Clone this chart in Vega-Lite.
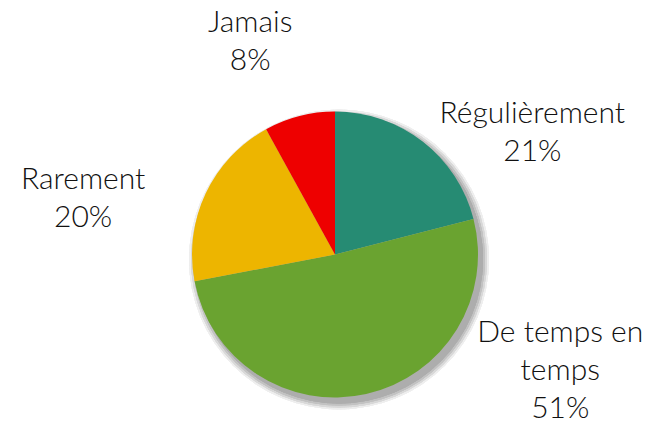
{
  "$schema": "https://vega.github.io/schema/vega-lite/v6.json",
  "width": 630,
  "height": 333,
  "autosize": "none",
  "padding": {"left": 20, "top": 88, "right": 0, "bottom": 0},
  "background": "white",
  "view": {"stroke": null},
  "data": {
    "values": [
      {"cat": "Régulièrement", "value": 21, "rank": 1, "label": "Régulièrement\n21%"},
      {"cat": "De temps en temps", "value": 51, "rank": 2, "label": "De temps en\ntemps\n51%"},
      {"cat": "Rarement", "value": 20, "rank": 3, "label": "Rarement\n20%"},
      {"cat": "Jamais", "value": 8, "rank": 4, "label": "Jamais\n8%"}
    ]
  },
  "layer": [
    {"mark": {"type": "arc", "outerRadius": 150, "theta": 0, "theta2": 6.2832, "fill": "#eeeeee", "x": {"expr": "width/2+4"}, "y": {"expr": "height/2+5"}}, "encoding": {}},
    {"mark": {"type": "arc", "outerRadius": 148, "theta": 0, "theta2": 6.2832, "fill": "#d8d8d8", "x": {"expr": "width/2+4"}, "y": {"expr": "height/2+5"}}, "encoding": {}},
    {"mark": {"type": "arc", "outerRadius": 146, "theta": 0, "theta2": 6.2832, "fill": "#c2c2c2", "x": {"expr": "width/2+4"}, "y": {"expr": "height/2+5"}}, "encoding": {}},
    {"mark": {"type": "arc", "outerRadius": 144, "theta": 0, "theta2": 6.2832, "fill": "#adadad", "x": {"expr": "width/2+4"}, "y": {"expr": "height/2+5"}}, "encoding": {}},
    {
      "mark": {"type": "arc", "outerRadius": 143},
      "encoding": {
        "theta": {"field": "value", "type": "quantitative", "stack": true},
        "order": {"field": "rank", "type": "quantitative"},
        "color": {
          "field": "cat",
          "type": "nominal",
          "scale": {"domain": ["Régulièrement", "De temps en temps", "Rarement", "Jamais"], "range": ["#268B73", "#6AA330", "#EDB500", "#EE0000"]},
          "legend": null
        }
      }
    },
    {
      "mark": {"type": "text", "radius": 180, "dx": 87, "dy": 11, "font": "Lato", "fontSize": 30, "fontWeight": 300, "lineHeight": 38, "lineBreak": "\n", "align": "center", "baseline": "alphabetic", "color": "#111111"},
      "encoding": {
        "theta": {"field": "value", "type": "quantitative", "stack": true},
        "order": {"field": "rank", "type": "quantitative"},
        "text": {"field": "label", "condition": {"test": "datum.cat !== 'Régulièrement'", "value": ""}}
      }
    },
    {
      "mark": {"type": "text", "radius": 180, "dx": 186, "dy": -88, "font": "Lato", "fontSize": 30, "fontWeight": 300, "lineHeight": 38, "lineBreak": "\n", "align": "center", "baseline": "alphabetic", "color": "#111111"},
      "encoding": {
        "theta": {"field": "value", "type": "quantitative", "stack": true},
        "order": {"field": "rank", "type": "quantitative"},
        "text": {"field": "label", "condition": {"test": "datum.cat !== 'De temps en temps'", "value": ""}}
      }
    },
    {
      "mark": {"type": "text", "radius": 180, "dx": -89, "dy": 11, "font": "Lato", "fontSize": 30, "fontWeight": 300, "lineHeight": 38, "lineBreak": "\n", "align": "center", "baseline": "alphabetic", "color": "#111111"},
      "encoding": {
        "theta": {"field": "value", "type": "quantitative", "stack": true},
        "order": {"field": "rank", "type": "quantitative"},
        "text": {"field": "label", "condition": {"test": "datum.cat !== 'Rarement'", "value": ""}}
      }
    },
    {
      "mark": {"type": "text", "radius": 180, "dx": -40, "dy": -48, "font": "Lato", "fontSize": 30, "fontWeight": 300, "lineHeight": 38, "lineBreak": "\n", "align": "center", "baseline": "alphabetic", "color": "#111111"},
      "encoding": {
        "theta": {"field": "value", "type": "quantitative", "stack": true},
        "order": {"field": "rank", "type": "quantitative"},
        "text": {"field": "label", "condition": {"test": "datum.cat !== 'Jamais'", "value": ""}}
      }
    }
  ]
}
